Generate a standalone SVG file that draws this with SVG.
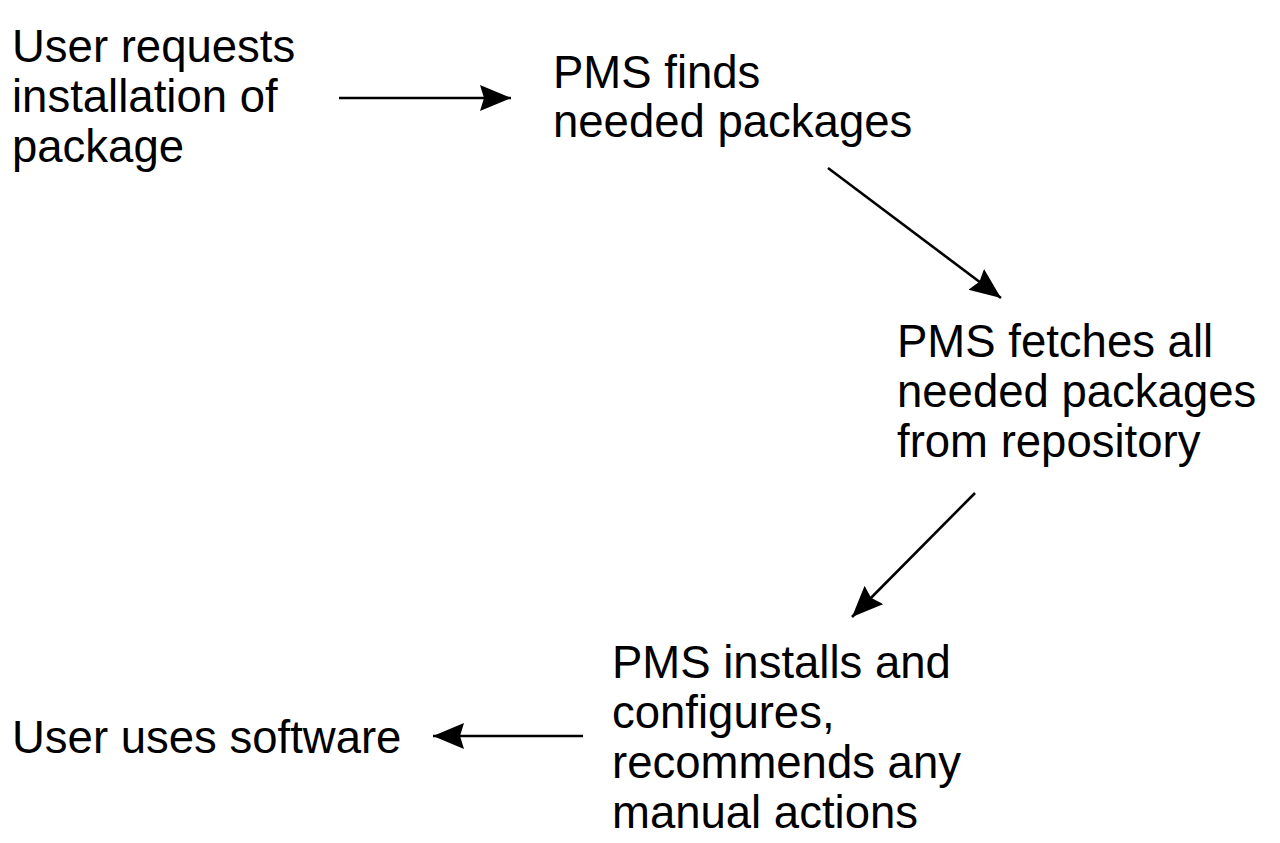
<svg xmlns="http://www.w3.org/2000/svg" width="1280" height="843" viewBox="0 0 1280 843">
<style>
text{font-family:"Liberation Sans",Arial,sans-serif;font-size:45.5px;fill:#000}
.c{stroke:#000;stroke-width:2.6;fill:none}
</style>
<defs>
<marker id="ah" markerUnits="userSpaceOnUse" markerWidth="34" markerHeight="28" refX="31" refY="13" orient="auto">
<path d="M0,0 L31,13 L0,26 L4,13 Z" fill="#000"/>
</marker>
</defs>
<rect width="1280" height="843" fill="#fff"/>
<g id="n1"><text x="12" y="62">User requests</text><text x="12" y="112">installation of</text><text x="12" y="162">package</text></g>
<g id="n2"><text x="553" y="88">PMS finds</text><text x="553" y="137">needed packages</text></g>
<g id="n3"><text x="897" y="357">PMS fetches all</text><text x="897" y="407">needed packages</text><text x="897" y="457">from repository</text></g>
<g id="n4"><text x="612" y="678">PMS installs and</text><text x="612" y="728">configures,</text><text x="612" y="778">recommends any</text><text x="612" y="828">manual actions</text></g>
<g id="n5"><text x="12" y="753">User uses software</text></g>
<g id="connectors">
<line class="c" x1="339" y1="98" x2="511" y2="98" marker-end="url(#ah)"/>
<line class="c" x1="828" y1="168" x2="1001" y2="298" marker-end="url(#ah)"/>
<line class="c" x1="975" y1="493" x2="852" y2="617" marker-end="url(#ah)"/>
<line class="c" x1="583" y1="736" x2="433" y2="736" marker-end="url(#ah)"/>
</g>
</svg>
